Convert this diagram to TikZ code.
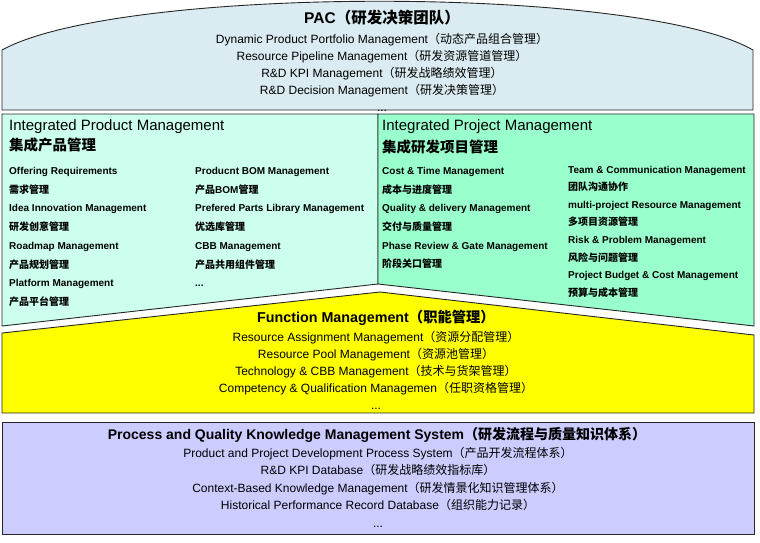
\documentclass[tikz,border=0pt]{standalone}
\usepackage{fontspec}
\usepackage{tikz}
\setmainfont{Liberation Sans}
\newfontfamily\cjk{Noto Sans CJK SC}
\newcommand{\zh}[1]{{\cjk #1}}
\definecolor{pacblue}{RGB}{218, 236, 241}
\definecolor{productcyan}{RGB}{204, 255, 238}
\definecolor{projectmint}{RGB}{153, 255, 204}
\definecolor{functionyellow}{RGB}{255, 255, 0}
\definecolor{processlavender}{RGB}{204, 204, 255}

\begin{document}
\begin{tikzpicture}[
    x=1pt, y=-1pt,
    layer/.style={draw=black!85, line width=0.9pt},
    heading/.style={font=\bfseries\fontsize{14.3}{17}\selectfont, inner sep=0},
    subheading/.style={anchor=west, font=\fontsize{15}{18}\selectfont, inner sep=0},
    cnheading/.style={anchor=west, font=\bfseries\fontsize{14.5}{18}\selectfont, inner sep=0},
    centerlist/.style={align=center, anchor=north, font=\fontsize{12}{17}\selectfont, inner sep=0},
    itemlist/.style={align=left, anchor=north west, font=\bfseries\fontsize{10}{18.75}\selectfont, inner sep=0},
]
    \useasboundingbox (0,0) rectangle (760,542);

    % PAC
    \draw[layer, fill=pacblue] (2,110) -- (2,50) .. controls (120,-15) and (640,-15) .. (753,50) -- (753,110) -- cycle;
    \node[heading, font=\bfseries\fontsize{15.5}{18}\selectfont] (pactitle) at (382,18) {PAC\zh{（研发决策团队）}};
    \node[centerlist] (paclist) at (382,33) {
        Dynamic Product Portfolio Management\zh{（动态产品组合管理）}\\
        Resource Pipeline Management\zh{（研发资源管道管理）}\\
        R\&D KPI Management\zh{（研发战略绩效管理）}\\
        R\&D Decision Management\zh{（研发决策管理）}\\
        ...
    };

    % Integrated Product Management
    \draw[layer, fill=productcyan] (2,114) -- (378,114) -- (378,284) -- (2,326) -- cycle;
    \node[subheading] (ipmtitle) at (9,126.5) {Integrated Product Management};
    \node[cnheading] (ipmcn) at (9,145) {\zh{集成产品管理}};
    \node[itemlist] (ipmleft) at (9,167) {
        Offering Requirements\\
        \zh{需求管理}\\
        Idea Innovation Management\\
        \zh{研发创意管理}\\
        Roadmap Management\\
        \zh{产品规划管理}\\
        Platform Management\\
        \zh{产品平台管理}
    };
    \node[itemlist] (ipmright) at (195,167) {
        Producnt BOM Management\\
        \zh{产品}BOM\zh{管理}\\
        Prefered Parts Library Management\\
        \zh{优选库管理}\\
        CBB Management\\
        \zh{产品共用组件管理}\\
        ...
    };

    % Integrated Project Management
    \draw[layer, fill=projectmint] (378,114) -- (754,114) -- (754,326) -- (378,284) -- cycle;
    \node[subheading] (ipjtitle) at (382,127) {Integrated Project Management};
    \node[cnheading] (ipjcn) at (382,146.5) {\zh{集成研发项目管理}};
    \node[itemlist, font=\bfseries\fontsize{10}{18.7}\selectfont] (ipjleft) at (382,167) {
        Cost \& Time Management\\
        \zh{成本与进度管理}\\
        Quality \& delivery Management\\
        \zh{交付与质量管理}\\
        Phase Review \& Gate Management\\
        \zh{阶段关口管理}
    };
    \node[itemlist, font=\bfseries\fontsize{10}{17.6}\selectfont] (ipjright) at (568,165.6) {
        Team \& Communication Management\\
        \zh{团队沟通协作}\\
        multi-project Resource Management\\
        \zh{多项目资源管理}\\
        Risk \& Problem Management\\
        \zh{风险与问题管理}\\
        Project Budget \& Cost Management\\
        \zh{预算与成本管理}
    };

    % Function Management
    \draw[layer, fill=functionyellow] (2,333) -- (380,292) -- (754,335) -- (754,413) -- (2,413) -- cycle;
    \node[heading] (functitle) at (376,318) {Function Management\zh{（职能管理）}};
    \node[centerlist] (funclist) at (376,331.5) {
        Resource Assignment Management\zh{（资源分配管理）}\\
        Resource Pool Management\zh{（资源池管理）}\\
        Technology \& CBB Management\zh{（技术与货架管理）}\\
        Competency \& Qualification Managemen\zh{（任职资格管理）}\\
        ...
    };

    % Process and Quality Knowledge Management System
    \draw[layer, fill=processlavender] (2,422) rectangle (754,534);
    \node[heading, font=\bfseries\fontsize{14}{17}\selectfont] (proctitle) at (377,434.5) {Process and Quality Knowledge Management System\zh{（研发流程与质量知识体系）}};
    \node[centerlist, font=\fontsize{12}{17.5}\selectfont] (proclist) at (378,447) {
        Product and Project Development Process System\zh{（产品开发流程体系）}\\
        R\&D KPI Database\zh{（研发战略绩效指标库）}\\
        Context-Based Knowledge Management\zh{（研发情景化知识管理体系）}\\
        Historical Performance Record Database\zh{（组织能力记录）}\\
        ...
    };

\end{tikzpicture}
\end{document}
